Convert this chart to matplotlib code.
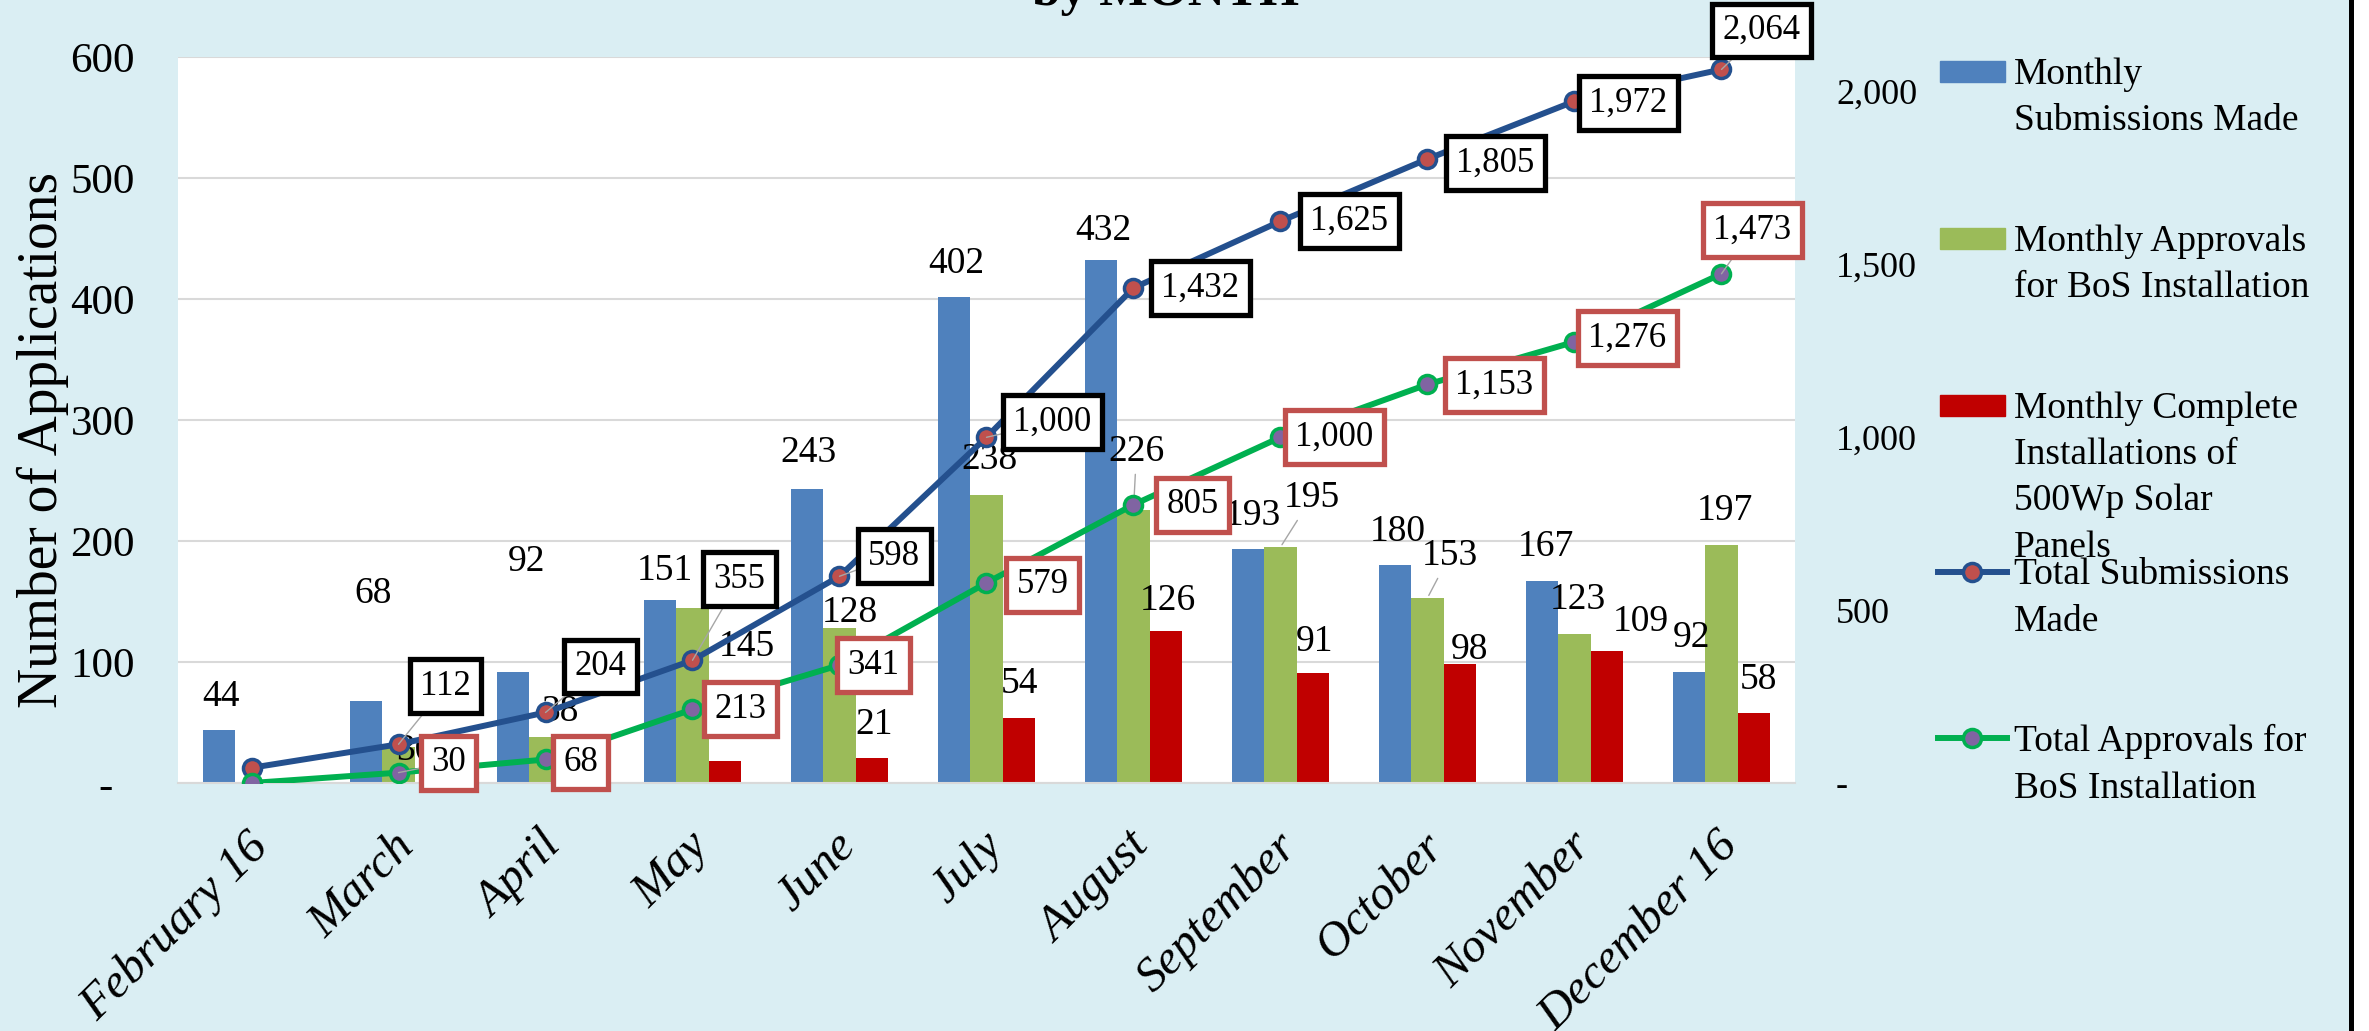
import matplotlib.pyplot as plt
import matplotlib.transforms as mtransforms
from matplotlib.patches import Rectangle
from matplotlib.lines import Line2D
import numpy as np

plt.rcParams['font.family'] = ['Liberation Serif', 'DejaVu Serif']

months = ['February 16', 'March', 'April', 'May', 'June', 'July', 'August',
          'September', 'October', 'November', 'December 16']
submissions = [44, 68, 92, 151, 243, 402, 432, 193, 180, 167, 92]
approvals = [0, 30, 38, 145, 128, 238, 226, 195, 153, 123, 197]
installations = [0, 0, 0, 18, 21, 54, 126, 91, 98, 109, 58]
total_submissions = [44, 112, 204, 355, 598, 1000, 1432, 1625, 1805, 1972, 2064]
total_approvals = [0, 30, 68, 213, 341, 579, 805, 1000, 1153, 1276, 1473]

left_ticks = [0, 100, 200, 300, 400, 500, 600]
left_labels = ['-  ', '100', '200', '300', '400', '500', '600']
right_ticks = [0, 500, 1000, 1500, 2000]
right_labels = ['-', '500', '1,000', '1,500', '2,000']

legend_names = ['Monthly\nSubmissions Made',
                'Monthly Approvals\nfor BoS Installation',
                'Monthly Complete\nInstallations of\n500Wp Solar\nPanels',
                'Total Submissions\nMade',
                'Total Approvals for\nBoS Installation']

c_blue, c_green, c_red = '#4F81BD', '#9BBB59', '#C00000'
c_line1, c_line2 = '#24508E', '#00B050'
c_box2 = '#C0504D'
c_lead = '#A6A6A6'
bg = '#DAEEF3'

# label offsets in pixels (dx, dy) from the data point
blue_off = [(2, 33), (7, 107), (13, 110), (5, 30), (1, 36), (2, 33), (2, 30),
            (5, 34), (3, 33), (4, 34), (2, 34)]
green_off = [(0, 0), (16, -4), (14, 25), (54, -39), (10, 15), (3, 35), (3, 58),
             (31, 49), (22, 42), (3, 34), (3, 34)]
red_off = [(0, 0), (0, 0), (0, 0), (5, 34), (2, 33), (1, 34), (2, 30),
           (2, 31), (10, 15), (34, 29), (5, 33)]
sub_off = [None, (47, 58), (55, 46), (47, 81), (55, 20), (66, 15), (67, 0),
           (69, 0), (68, -4), (54, -2), (40, 39)]
appr_off = [None, (50, 10), (35, -3), (48, 0), (34, 0), (56, -2), (59, 0),
            (54, 0), (67, -1), (53, 4), (31, 44)]

W, H = 2369, 1031
fig = plt.figure(figsize=(W / 100, H / 100), dpi=100, facecolor=bg)
ax = fig.add_axes([178 / W, 1 - 783 / H, 1617 / W, 726 / H])
ax2 = ax.twinx()

x = np.arange(len(months))
bw = 0.22
ax.bar(x - bw, submissions, bw, color=c_blue, zorder=2)
ax.bar(x, approvals, bw, color=c_green, zorder=2)
ax.bar(x + bw, installations, bw, color=c_red, zorder=2)

ax.set_xlim(-0.5, len(months) - 0.5)
ax.set_ylim(0, 600)
ax2.set_ylim(0, 2100)
ax.set_yticks(left_ticks)
ax.set_yticklabels(left_labels, fontsize=31)
ax2.set_yticks(right_ticks)
ax2.set_yticklabels(right_labels, fontsize=26)
ax.tick_params(axis='y', length=0, pad=31)
ax2.tick_params(axis='y', length=0, pad=29.5)
ax.set_xticks(x)
ax.set_xticklabels(months, rotation=45, ha='right', va='top', rotation_mode='anchor',
                   fontstyle='italic', fontsize=35)
ax.tick_params(axis='x', length=0, pad=29.5)
shift = mtransforms.ScaledTranslation(-6 / 100, 0, fig.dpi_scale_trans)
for lbl in ax.get_xticklabels():
    lbl.set_transform(lbl.get_transform() + shift)

ax.set_facecolor('white')
ax.yaxis.grid(True, color='#D9D9D9', lw=1.5)
ax.set_axisbelow(True)
for s in ['left', 'right', 'top']:
    ax.spines[s].set_visible(False)
    ax2.spines[s].set_visible(False)
ax.spines['bottom'].set_color('#D9D9D9')
ax.spines['bottom'].set_linewidth(1.5)
ax2.spines['bottom'].set_visible(False)

ax2.plot(x, total_submissions, color=c_line1, lw=4.3, marker='o', ms=13,
         mfc=c_box2, mec=c_line1, mew=2.5, zorder=2)
ax2.plot(x, total_approvals, color=c_line2, lw=4.3, marker='o', ms=13,
         mfc='#8064A2', mec=c_line2, mew=2.5, zorder=2)


def bar_labels(xpos, values, offsets, leaders=()):
    for i, (xp, v) in enumerate(zip(xpos, values)):
        if v == 0:
            continue
        arrow = dict(arrowstyle='-', color=c_lead, lw=1) if i in leaders else None
        ax.annotate(f'{v:,}', (xp, v), xytext=offsets[i], textcoords='offset pixels',
                    ha='center', va='center', fontsize=27, arrowprops=arrow,
                    annotation_clip=False, zorder=4)


bar_labels(x - bw, submissions, blue_off)
bar_labels(x, approvals, green_off, leaders=(6, 7, 8))
bar_labels(x + bw, installations, red_off)


def box_labels(values, offsets, edge, leaders=()):
    for i, v in enumerate(values):
        if offsets[i] is None:
            continue
        arrow = dict(arrowstyle='-', color=c_lead, lw=1, shrinkA=0, shrinkB=0) if i in leaders else None
        ax2.annotate(f'{v:,}', (x[i], v), xytext=offsets[i], textcoords='offset pixels',
                     ha='center', va='center', fontsize=25, arrowprops=arrow,
                     annotation_clip=False, zorder=5,
                     bbox=dict(boxstyle='square,pad=0.3', fc='white', ec=edge, lw=3.8))


box_labels(total_submissions, sub_off, 'black', leaders=(1, 2, 3, 4, 5, 10))
box_labels(total_approvals, appr_off, c_box2, leaders=(1, 10))

fig.text(43 / W, 1 - 440 / H, 'Number of Applications', rotation=90,
         ha='center', va='center', fontsize=40)
fig.text(0.492, 1 - 5 / H, 'by MONTH', ha='center', va='baseline',
         fontsize=37, fontweight='bold')

# legend drawn by hand to keep Excel's spacing
leg_y = [71, 238, 405, 572, 738]
for i, (name, yc) in enumerate(zip(legend_names, leg_y)):
    yf = 1 - yc / H
    if i < 3:
        fig.add_artist(Rectangle((1940 / W, 1 - (yc + 10.5) / H), 65 / W, 21 / H,
                                 transform=fig.transFigure,
                                 color=[c_blue, c_green, c_red][i]))
    else:
        col = c_line1 if i == 3 else c_line2
        face = c_box2 if i == 3 else '#8064A2'
        fig.add_artist(Line2D([1938 / W, 2007 / W], [yf, yf], color=col, lw=4.3,
                              transform=fig.transFigure))
        fig.add_artist(Line2D([1972 / W], [yf], marker='o', ms=13, mfc=face,
                              mec=col, mew=2.5, transform=fig.transFigure))
    fig.text(2014 / W, 1 - (yc - 14) / H, name, ha='left', va='top',
             fontsize=27, linespacing=1.45)

fig.add_artist(Rectangle((2354 / W, 0), 1, 1, transform=fig.transFigure,
                         color='white', zorder=0))
fig.add_artist(Line2D([2351 / W, 2351 / W], [0, 1], color='black', lw=3.6,
                      transform=fig.transFigure))

fig.savefig('out.png', dpi=100, facecolor=bg)
